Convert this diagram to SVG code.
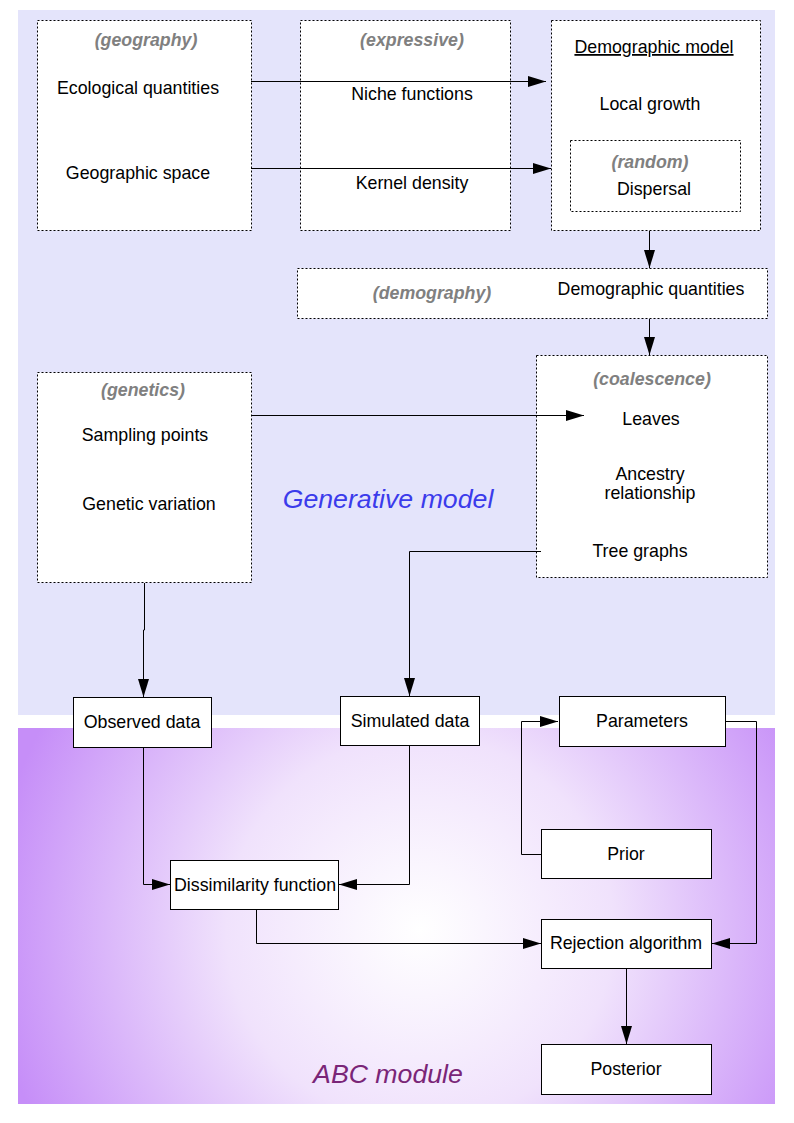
<svg xmlns="http://www.w3.org/2000/svg" width="794" height="1123" viewBox="0 0 794 1123">
<defs>
<radialGradient id="abcg" gradientUnits="userSpaceOnUse" cx="420" cy="930" r="430">
<stop offset="0" stop-color="#FFFFFF"/>
<stop offset="0.45" stop-color="#F0E2FC"/>
<stop offset="1" stop-color="#C68EF8"/>
</radialGradient>
<marker id="ah" viewBox="0 0 18 11" refX="18" refY="5.5" markerWidth="18" markerHeight="11" markerUnits="userSpaceOnUse" orient="auto">
<path d="M0,0 L18,5.5 L0,11 Z" fill="#000"/>
</marker>
<style>
.dot{fill:#fff;stroke:#000;stroke-width:1;stroke-dasharray:2,2}
.box{fill:#fff;stroke:#000;stroke-width:1}
.t{font-family:"Liberation Sans",Arial,sans-serif;font-size:17.8px;fill:#000;text-anchor:middle}
.h{font-family:"Liberation Sans",Arial,sans-serif;font-size:17.8px;font-weight:bold;font-style:italic;fill:#808080;text-anchor:middle}
.c{fill:none;stroke:#000;stroke-width:1;marker-end:url(#ah)}
</style>
</defs>
<rect x="18" y="10" width="757" height="705" fill="#E4E4FB"/>
<rect x="18" y="728" width="757" height="376" fill="url(#abcg)"/>
<text x="388" y="508" font-family="'Liberation Sans',Arial,sans-serif" font-size="26.7" font-style="italic" fill="#3B3BEB" text-anchor="middle">Generative model</text>
<text x="388" y="1083" font-family="'Liberation Sans',Arial,sans-serif" font-size="26.7" font-style="italic" fill="#7A2577" text-anchor="middle">ABC module</text>

<g id="geography">
<rect class="dot" x="37.5" y="20.5" width="214" height="210"/>
<text class="h" x="146" y="46">(geography)</text>
<text class="t" x="138" y="94">Ecological quantities</text>
<text class="t" x="138" y="179">Geographic space</text>
</g>
<g id="expressive">
<rect class="dot" x="300.5" y="20.5" width="210" height="210"/>
<text class="h" x="412" y="46">(expressive)</text>
<text class="t" x="412" y="100">Niche functions</text>
<text class="t" x="412" y="189">Kernel density</text>
</g>
<g id="demographic-model">
<rect class="dot" x="551.5" y="20.5" width="209" height="210"/>
<text class="t" x="654" y="53" text-decoration="underline">Demographic model</text>
<text class="t" x="650" y="110">Local growth</text>
<g id="random">
<rect class="dot" x="570.5" y="140.5" width="170" height="71"/>
<text class="h" x="650" y="168">(random)</text>
<text class="t" x="654" y="195">Dispersal</text>
</g>
</g>
<g id="demography">
<rect class="dot" x="297.5" y="268.5" width="470" height="50"/>
<text class="h" x="432" y="299">(demography)</text>
<text class="t" x="651" y="295">Demographic quantities</text>
</g>
<g id="genetics">
<rect class="dot" x="37.5" y="372.5" width="214" height="210"/>
<text class="h" x="143" y="396">(genetics)</text>
<text class="t" x="145" y="441">Sampling points</text>
<text class="t" x="149" y="510">Genetic variation</text>
</g>
<g id="coalescence">
<rect class="dot" x="536.5" y="355.5" width="231" height="222"/>
<text class="h" x="652" y="385">(coalescence)</text>
<text class="t" x="651" y="425">Leaves</text>
<text class="t" x="650" y="480">Ancestry</text>
<text class="t" x="650" y="499">relationship</text>
<text class="t" x="640" y="557">Tree graphs</text>
</g>
<g id="observed">
<rect class="box" x="73.5" y="697.5" width="138" height="50"/>
<text class="t" x="142" y="728">Observed data</text>
</g>
<g id="simulated">
<rect class="box" x="340.5" y="696.5" width="139" height="49"/>
<text class="t" x="410" y="727">Simulated data</text>
</g>
<g id="parameters">
<rect class="box" x="559.5" y="696.5" width="166" height="50"/>
<text class="t" x="642" y="727">Parameters</text>
</g>
<g id="prior">
<rect class="box" x="541.5" y="829.5" width="170" height="49"/>
<text class="t" x="626" y="860">Prior</text>
</g>
<g id="dissimilarity">
<rect class="box" x="170.5" y="860.5" width="168" height="49"/>
<text class="t" x="255" y="891">Dissimilarity function</text>
</g>
<g id="rejection">
<rect class="box" x="541.5" y="919.5" width="170" height="49"/>
<text class="t" x="626" y="949">Rejection algorithm</text>
</g>
<g id="posterior">
<rect class="box" x="541.5" y="1044.5" width="170" height="50"/>
<text class="t" x="626" y="1075">Posterior</text>
</g>

<g id="connectors">
<path class="c" d="M251,81.5 H546"/>
<path class="c" d="M251,168.5 H551"/>
<path class="c" d="M649.5,231 V268"/>
<path class="c" d="M649.5,319 V355"/>
<path class="c" d="M251,415.5 H584"/>
<path class="c" d="M541,551.5 H409.5 V696"/>
<path class="c" d="M144.5,583 V630 H143.5 V697"/>
<path class="c" d="M143.5,748 V884.5 H170"/>
<path class="c" d="M409.5,746 V884.5 H339"/>
<path class="c" d="M541,854.5 H521.5 V721.5 H558"/>
<path class="c" d="M726,721.5 H756.5 V943.5 H712"/>
<path class="c" d="M256.5,910 V943.5 H541"/>
<path class="c" d="M626.5,969 V1044"/>
</g>
</svg>
